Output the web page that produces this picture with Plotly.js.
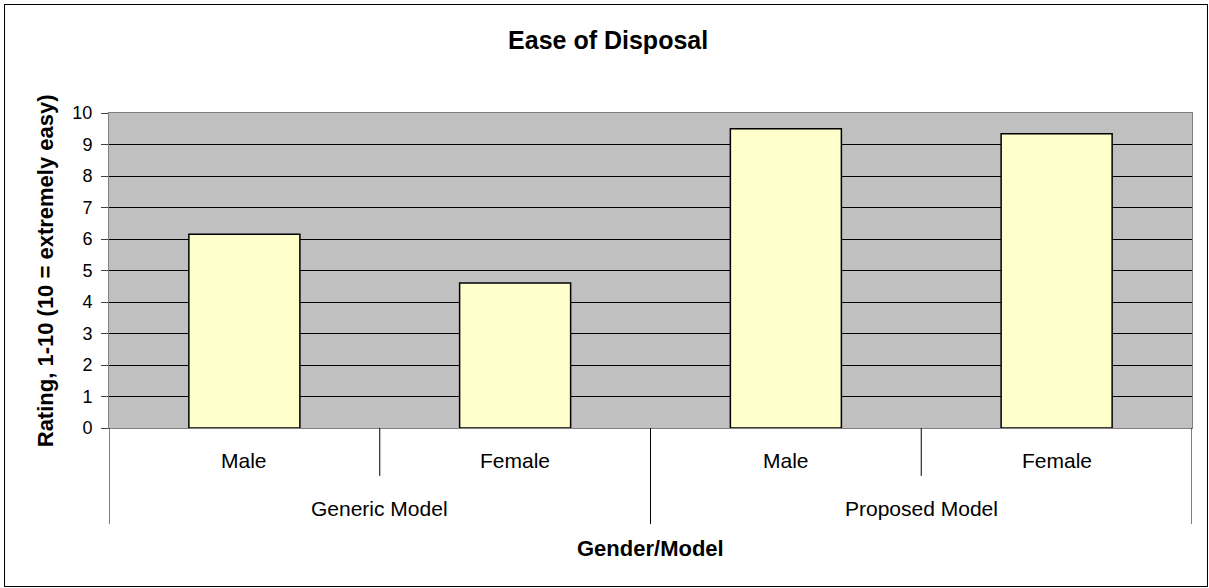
<!DOCTYPE html>
<html>
<head>
<meta charset="utf-8">
<script src="https://cdn.plot.ly/plotly-3.0.1.min.js"></script>
<style>
  html, body { margin: 0; padding: 0; background: #fff; }
  #wrap { position: relative; width: 1209px; height: 588px; }
  #chart { width: 1209px; height: 588px; }
  #frame { position: absolute; left: 4px; top: 4px; width: 1202px; height: 581px;
           border: 1px solid #000; pointer-events: none; }
</style>
</head>
<body>
<div id="wrap"><div id="chart"></div><div id="frame"></div></div>
<script>
// Data
const groups = ["Generic Model", "Generic Model", "Proposed Model", "Proposed Model"];
const genders = ["Male", "Female", "Male", "Female"];
const ratings = [6.15, 4.6, 9.5, 9.34];
const yTicks = [0, 1, 2, 3, 4, 5, 6, 7, 8, 9, 10];

const xIdx = genders.map((_, i) => i);
const FONT = "Liberation Sans, Arial, sans-serif";

// Group labels (unique groups, centred over their members)
const uniqueGroups = [...new Set(groups)];
const groupCenters = uniqueGroups.map(g => {
  const idx = xIdx.filter(i => groups[i] === g);
  return (idx[0] + idx[idx.length - 1]) / 2;
});

const annotations = [];
genders.forEach((g, i) => annotations.push({
  x: i, xref: 'x', y: -0.1016, yref: 'paper', text: g, showarrow: false,
  font: {family: FONT, size: 21, color: '#000'}, xanchor: 'center', yanchor: 'middle'
}));
uniqueGroups.forEach((g, k) => annotations.push({
  x: groupCenters[k], xref: 'x', y: -0.254, yref: 'paper', text: g, showarrow: false,
  font: {family: FONT, size: 21, color: '#000'}, xanchor: 'center', yanchor: 'middle'
}));
// Axis titles
annotations.push({
  x: 0.5, xref: 'paper', y: -0.384, yref: 'paper', text: '<b>Gender/Model</b>', showarrow: false,
  font: {family: FONT, size: 22, color: '#000'}, xanchor: 'center', yanchor: 'middle'
});
annotations.push({
  x: -0.0584, xref: 'paper', y: 0.5, yref: 'paper', text: '<b>Rating, 1-10 (10 = extremely easy)</b>',
  showarrow: false, textangle: -90,
  font: {family: FONT, size: 22, color: '#000'}, xanchor: 'center', yanchor: 'middle'
});

// Divider lines under the axis
const shapes = [];
const lineStyle = {color: '#000', width: 1};
for (let i = 0; i <= genders.length; i++) {
  const b = i - 0.5;
  const isGroupEdge = (i === 0 || i === genders.length || groups[i] !== groups[i - 1]);
  shapes.push({
    type: 'line', xref: 'x', yref: 'paper', x0: b, x1: b,
    y0: 0, y1: isGroupEdge ? -0.305 : -0.152, line: lineStyle
  });
}

const trace = {
  type: 'bar', x: xIdx, y: ratings, width: 0.41,
  marker: {color: '#FFFFCC', line: {color: '#000', width: 1.5}},
  hoverinfo: 'skip'
};

const layout = {
  width: 1209, height: 588,
  margin: {l: 109, r: 17, t: 113, b: 160},
  paper_bgcolor: '#FFFFFF', plot_bgcolor: '#C0C0C0',
  showlegend: false,
  font: {family: FONT, color: '#000'},
  title: {text: '<b>Ease of Disposal</b>', font: {family: FONT, size: 25, color: '#000'},
          x: 0.503, xanchor: 'center', y: 0.931, yanchor: 'middle'},
  xaxis: {
    range: [-0.5, 3.5], showticklabels: false, ticks: '', showgrid: false, zeroline: false,
    showline: true, linecolor: '#808080', linewidth: 1, mirror: true, fixedrange: true
  },
  yaxis: {
    range: [0, 10], tickvals: yTicks, ticktext: yTicks.map(String),
    ticks: 'outside', ticklen: 7, tickcolor: '#404040', tickwidth: 1, ticklabelstandoff: 5,
    tickfont: {family: FONT, size: 18, color: '#000'},
    showgrid: true, gridcolor: '#000', gridwidth: 1, zeroline: true, zerolinecolor: '#404040', zerolinewidth: 1,
    showline: true, linecolor: '#808080', linewidth: 1, mirror: true, fixedrange: true
  },
  annotations: annotations,
  shapes: shapes
};

Plotly.newPlot('chart', [trace], layout, {displayModeBar: false, staticPlot: true});
</script>
</body>
</html>
